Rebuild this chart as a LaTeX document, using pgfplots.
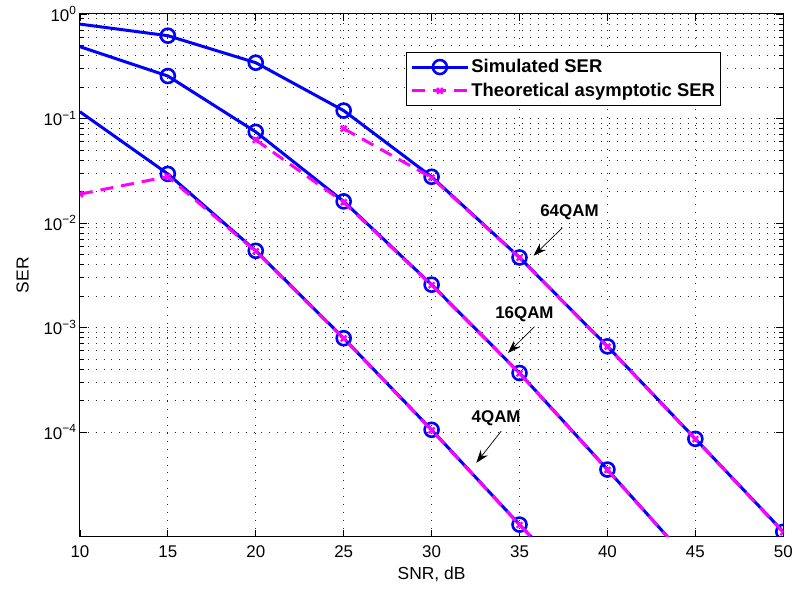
\documentclass[border=0pt]{standalone}
\usepackage{pgfplots}
\pgfplotsset{compat=1.18}
\usepackage{fontspec}
\setmainfont{Liberation Sans}
\usetikzlibrary{arrows.meta}
\definecolor{mblue}{rgb}{0,0,1}
\definecolor{mmag}{rgb}{1,0,1}
\begin{document}
\begin{tikzpicture}
\begin{axis}[name=ax, scale only axis, width=704bp, height=523bp,
  xmin=10, xmax=50, ymode=log, ymin=1e-5, ymax=1,
  xtick={10,15,...,50},
  ytick={1e-4,1e-3,1e-2,1e-1,1},
  yticklabels={10\textsuperscript{−4},10\textsuperscript{−3},10\textsuperscript{−2},10\textsuperscript{−1},10\textsuperscript{0}},
  /pgf/number format/assume math mode=true,
  tick align=inside, tick pos=both,
  major tick length=7bp, minor tick length=4bp,
  grid=both,
  major grid style={black!85, line width=0.9bp, dash pattern=on 0.9bp off 7bp},
  minor grid style={black!85, line width=0.9bp, dash pattern=on 0.9bp off 7bp},
  axis line style={line width=1bp},
  every tick/.style={black, line width=0.7bp},
  tick label style={font=\fontsize{17}{19}\selectfont},
  xticklabel style={yshift=-6bp},
  label style={font=\fontsize{17.5}{20}\selectfont},
  xlabel={SNR, dB}, ylabel={SER},
  xlabel style={yshift=-2bp},
  ylabel style={yshift=8bp},
  legend style={at={(0.912,0.927)}, anchor=north east, draw=black, line width=1bp,
    font=\bfseries\fontsize{18.5}{21}\selectfont, inner xsep=4bp, inner ysep=5bp,
    row sep=5bp},
  legend cell align=left,
  legend image code/.code={\draw[mark=none] (0bp,0bp) -- (56bp,0bp); \draw[mark indices={1}] plot coordinates {(28bp,0bp)};},
  clip marker paths=true,
  simstyle/.style={mblue, line width=3bp, mark=o, mark size=7bp, mark options={solid, line width=2.6bp}},
  thstyle/.style={mmag, line width=3bp, dash pattern=on 13bp off 8bp, mark=x, mark size=4bp, mark options={solid, line width=2.4bp}},
]
% 64QAM simulated
\addplot[simstyle, mark indices={2,...,9}] coordinates {(10,0.80) (15,0.62) (20,0.342) (25,0.119) (30,0.0277) (35,0.00468) (40,6.6e-4) (45,8.6e-5) (50,1.11e-5)};
\addlegendentry{Simulated SER}
% 64QAM theoretical
\addplot[thstyle] coordinates {(25,0.080) (30,0.0272) (35,0.00465) (40,6.55e-4) (45,8.55e-5) (50,1.10e-5)};
\addlegendentry{Theoretical asymptotic SER}
% 16QAM simulated
\addplot[simstyle, mark indices={2,3,4,5,6,7}] coordinates {(10,0.487) (15,0.255) (20,0.0745) (25,0.0161) (30,0.00257) (35,3.67e-4) (40,4.37e-5) (45,5.0e-6)};
% 16QAM theoretical
\addplot[thstyle, mark indices={1,2,3,4,5}] coordinates {(20,0.0624) (25,0.0158) (30,0.00254) (35,3.64e-4) (40,4.34e-5) (45,5.0e-6)};
% 4QAM simulated
\addplot[simstyle, mark indices={2,3,4,5,6}] coordinates {(10,0.116) (15,0.0295) (20,0.00542) (25,7.9e-4) (30,1.05e-4) (35,1.30e-5) (40,1.74e-6)};
% 4QAM theoretical
\addplot[thstyle, mark indices={1,2,3,4,5,6}] coordinates {(10,0.0189) (15,0.0278) (20,0.00535) (25,7.85e-4) (30,1.04e-4) (35,1.29e-5) (40,1.74e-6)};
% annotations
\node[font=\bfseries\fontsize{17}{20}\selectfont] at (axis cs:37.84,0.0128) {64QAM};
\draw[-{Stealth[length=13bp,width=9bp]}, line width=0.7bp] (axis cs:37.44,9.0e-3) -- (axis cs:35.80,4.86e-3);
\node[font=\bfseries\fontsize{17}{20}\selectfont] at (axis cs:35.28,1.33e-3) {16QAM};
\draw[-{Stealth[length=13bp,width=9bp]}, line width=0.7bp] (axis cs:35.85,1.02e-3) -- (axis cs:34.34,5.7e-4);
\node[font=\bfseries\fontsize{17}{20}\selectfont] at (axis cs:33.67,1.36e-4) {4QAM};
\draw[-{Stealth[length=13bp,width=9bp]}, line width=0.7bp] (axis cs:33.96,1.02e-4) -- (axis cs:32.54,5.06e-5);
\end{axis}
\path ([shift={(-80bp,-53bp)}]ax.south west) rectangle ([shift={(12bp,14bp)}]ax.north east);
\end{tikzpicture}
\end{document}
